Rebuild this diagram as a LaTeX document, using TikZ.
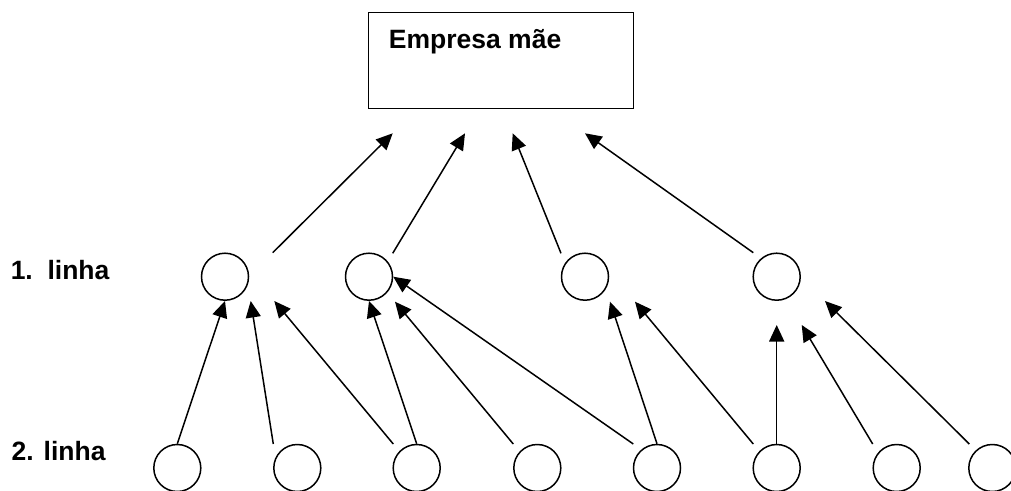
\documentclass[tikz,border=0pt]{standalone}
\usepackage{fontspec}
\setmainfont{Liberation Sans}
\usetikzlibrary{arrows.meta}
\begin{document}
\begin{tikzpicture}[x=1pt,y=-1pt,line width=1.5pt,
  circ/.style={draw,circle,minimum size=47pt,inner sep=0pt},
  arr/.style={-{Triangle[length=16.5pt,width=15pt]}},
  lbl/.style={font=\fontsize{26.5}{30}\selectfont\bfseries,inner sep=0pt,anchor=base west}]
\useasboundingbox (0,0) rectangle (1011,490);
% parent box
\node[draw,rectangle,minimum width=265pt,minimum height=96.4pt,inner sep=0pt] (mae) at (500.8,60.5) {};
\node[lbl] (maetxt) at (388.2,48.3) {Empresa mãe};
% row labels
\node[lbl] (lab1) at (10,279.3) {1.~~linha};
\node[lbl] (lab2) at (11,460) {2. linha};
% first line
\node[circ] (a1) at (225,276.7) {};
\node[circ] (a2) at (369,276.7) {};
\node[circ] (a3) at (585,276.7) {};
\node[circ] (a4) at (776.7,276.7) {};
% second line
\node[circ] (b1) at (177.3,468) {};
\node[circ] (b2) at (297.3,468) {};
\node[circ] (b3) at (416.7,468) {};
\node[circ] (b4) at (537.3,468) {};
\node[circ] (b5) at (657,468) {};
\node[circ] (b6) at (776.7,468) {};
\node[circ] (b7) at (896.7,468) {};
\node[circ] (b8) at (992.3,468) {};
% free ends of connectors to the parent
\coordinate (t1s) at (272.7,252.7); \coordinate (t1e) at (392.7,133.3);
\coordinate (t2s) at (392.7,253.3); \coordinate (t2e) at (465,133.3);
\coordinate (t3s) at (561,253.3);   \coordinate (t3e) at (512.7,133.3);
\coordinate (t4s) at (753.3,252.7); \coordinate (t4e) at (585,133.3);
\draw[arr] (t1s) -- (t1e);
\draw[arr] (t2s) -- (t2e);
\draw[arr] (t3s) -- (t3e);
\draw[arr] (t4s) -- (t4e);
% free ends of connectors from second line
\coordinate (s2) at (273.3,444);  \coordinate (e2) at (250.7,301);
\coordinate (s3) at (393.3,444);  \coordinate (e3) at (274.3,301);
\coordinate (s5) at (513.3,444);  \coordinate (e5) at (395,301.7);
\coordinate (s6) at (633.3,444);
\coordinate (e7) at (610,301.7);
\coordinate (s8) at (753.3,444);  \coordinate (e8) at (635,301.7);
\coordinate (e9) at (776.7,325);
\coordinate (s10) at (872.7,444); \coordinate (e10) at (801.7,325);
\coordinate (s11) at (969.3,444); \coordinate (e11) at (825,301);
\draw[arr] (b1.north) -- (a1.south);
\draw[arr] (s2) -- (e2);
\draw[arr] (s3) -- (e3);
\draw[arr] (b3.north) -- (a2.south);
\draw[arr] (s5) -- (e5);
\draw[arr] (s6) -- (a2.east);
\draw[arr] (b5.north) -- (e7);
\draw[arr] (s8) -- (e8);
\draw[arr] (b6.north) -- (e9);
\draw[arr] (s10) -- (e10);
\draw[arr] (s11) -- (e11);
\end{tikzpicture}
\end{document}
